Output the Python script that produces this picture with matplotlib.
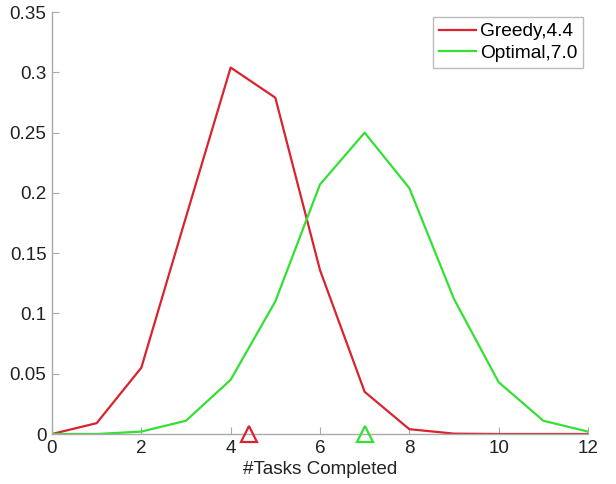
import matplotlib
matplotlib.use("Agg")
import matplotlib.pyplot as plt

tasks = list(range(13))
greedy = [0.0, 0.009, 0.055, 0.18, 0.304, 0.279, 0.136, 0.035, 0.004, 0.0003, 0.0, 0.0, 0.0]
optimal = [0.0, 0.0, 0.002, 0.011, 0.045, 0.110, 0.207, 0.250, 0.204, 0.112, 0.043, 0.011, 0.002]
means = {"Greedy": 4.4, "Optimal": 7.0}
colors = {"Greedy": "#d9232e", "Optimal": "#33e033"}

plt.rcParams["font.family"] = ["Liberation Sans", "DejaVu Sans"]

fig = plt.figure(figsize=(6.16, 4.84), dpi=100)
ax = fig.add_axes([0.0844, 0.1033, 0.8701, 0.8717])

ax.plot(tasks, greedy, color=colors["Greedy"], lw=1.6, label=f"Greedy,{means['Greedy']}")
ax.plot(tasks, optimal, color=colors["Optimal"], lw=1.6, label=f"Optimal,{means['Optimal']}")

for name, m in means.items():
    ax.plot([m], [0], marker="^", ms=12, mfc="none", mec=colors[name], mew=1.6,
            clip_on=False, zorder=5)

ax.set_xlim(0, 12)
ax.set_ylim(0, 0.35)
ax.set_xticks([0, 2, 4, 6, 8, 10, 12])
ax.set_yticks([0, 0.05, 0.1, 0.15, 0.2, 0.25, 0.3, 0.35])
ax.set_yticklabels(["0", "0.05", "0.1", "0.15", "0.2", "0.25", "0.3", "0.35"])
ax.set_xlabel("#Tasks Completed", fontsize=13.6, color="#222222", labelpad=3)

for s in ["top", "right"]:
    ax.spines[s].set_visible(False)
for s in ["left", "bottom"]:
    ax.spines[s].set_color("#aaaaaa")
    ax.spines[s].set_linewidth(1.0)
ax.tick_params(direction="in", length=5, color="#aaaaaa", labelsize=13.6,
               labelcolor="#222222", pad=4)

leg = ax.legend(loc="upper right", fontsize=13.8, frameon=True, fancybox=False,
                borderpad=0.32, handlelength=1.9, handletextpad=0.2,
                labelspacing=0.2, borderaxespad=0.25)
leg.get_frame().set_edgecolor("#aaaaaa")
leg.get_frame().set_linewidth(1.0)

fig.savefig("out.png", dpi=100)
